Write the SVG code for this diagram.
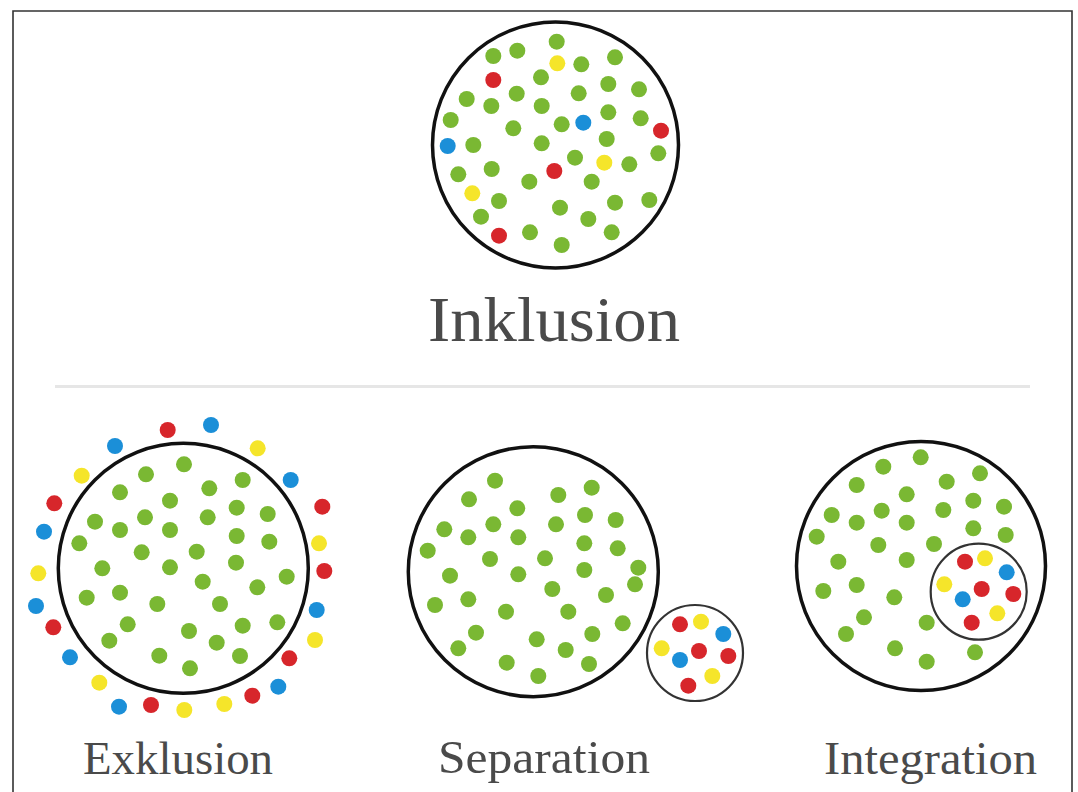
<svg xmlns="http://www.w3.org/2000/svg" width="1078" height="792" viewBox="0 0 1078 792">
<style>
.g{fill:#7ab833}.r{fill:#d7262b}.b{fill:#1b8fd8}.y{fill:#f5e52a}
.big{fill:none;stroke:#111;stroke-width:3.5}
.small{fill:none;stroke:#333;stroke-width:2.2}
.lbl{font-family:"Liberation Serif","DejaVu Serif",serif;fill:#4a4a4a}
</style>
<rect x="0" y="0" width="1078" height="792" fill="#fff"/>
<path d="M13,792 V11 H1072 V792" fill="none" stroke="#333" stroke-width="1.6"/>
<line x1="55" y1="386.5" x2="1030" y2="386.5" stroke="#e6e6e6" stroke-width="3"/>
<g id="inklusion">
<circle class="big" cx="555.5" cy="145" r="123"/>
<g>
<circle class="g" cx="556.7" cy="41.7" r="8"/><circle class="g" cx="493.3" cy="56" r="8"/><circle class="g" cx="517.3" cy="50.7" r="8"/><circle class="g" cx="615" cy="57.3" r="8"/><circle class="g" cx="581.3" cy="64.3" r="8"/><circle class="g" cx="541" cy="77.3" r="8"/><circle class="g" cx="608.3" cy="84" r="8"/><circle class="g" cx="639" cy="89.3" r="8"/><circle class="g" cx="466.7" cy="99" r="8"/><circle class="g" cx="491.3" cy="106" r="8"/><circle class="g" cx="516.7" cy="93.7" r="8"/><circle class="g" cx="578.7" cy="93.3" r="8"/><circle class="g" cx="541.7" cy="106" r="8"/><circle class="g" cx="608.3" cy="112.3" r="8"/><circle class="g" cx="640.7" cy="118.3" r="8"/><circle class="g" cx="450.7" cy="120" r="8"/><circle class="g" cx="513.3" cy="128.3" r="8"/><circle class="g" cx="561.7" cy="124.3" r="8"/><circle class="g" cx="606.7" cy="139" r="8"/><circle class="g" cx="473.3" cy="145" r="8"/><circle class="g" cx="541.7" cy="143.3" r="8"/><circle class="g" cx="658.3" cy="153.3" r="8"/><circle class="g" cx="575" cy="157.7" r="8"/><circle class="g" cx="629.3" cy="164.3" r="8"/><circle class="g" cx="458.3" cy="174.3" r="8"/><circle class="g" cx="491.7" cy="169" r="8"/><circle class="g" cx="529.3" cy="181.7" r="8"/><circle class="g" cx="591.7" cy="181.7" r="8"/><circle class="g" cx="499" cy="201" r="8"/><circle class="g" cx="560" cy="207.7" r="8"/><circle class="g" cx="615" cy="202.7" r="8"/><circle class="g" cx="649.3" cy="200" r="8"/><circle class="g" cx="481" cy="216.7" r="8"/><circle class="g" cx="588.3" cy="219" r="8"/><circle class="g" cx="530" cy="232.3" r="8"/><circle class="g" cx="611.7" cy="232.3" r="8"/><circle class="g" cx="561.7" cy="245" r="8"/>
<circle class="y" cx="557.3" cy="63.3" r="8"/><circle class="y" cx="604.3" cy="162.7" r="8"/><circle class="y" cx="472.3" cy="193.3" r="8"/>
<circle class="r" cx="493.3" cy="80" r="8"/><circle class="r" cx="661" cy="130.7" r="8"/><circle class="r" cx="554.3" cy="171" r="8"/><circle class="r" cx="499" cy="235.7" r="8"/>
<circle class="b" cx="583.3" cy="122.7" r="8"/><circle class="b" cx="447.7" cy="146" r="8"/>
</g>
<text class="lbl" x="428" y="341" font-size="63" textLength="252" lengthAdjust="spacingAndGlyphs">Inklusion</text>
</g>
<g id="exklusion">
<circle class="big" cx="183.3" cy="568.3" r="125"/>
<g>
<circle class="r" cx="167.7" cy="430" r="8"/><circle class="b" cx="211" cy="425" r="8"/><circle class="b" cx="115" cy="446" r="8"/><circle class="y" cx="257.7" cy="448.3" r="8"/><circle class="y" cx="81.7" cy="475.7" r="8"/><circle class="b" cx="290.7" cy="480" r="8"/><circle class="r" cx="54.3" cy="503.3" r="8"/><circle class="r" cx="322.3" cy="506.7" r="8"/><circle class="b" cx="44" cy="531.7" r="8"/><circle class="y" cx="319" cy="543.3" r="8"/><circle class="y" cx="38.3" cy="573.3" r="8"/><circle class="r" cx="324.3" cy="571" r="8"/><circle class="b" cx="36" cy="606" r="8"/><circle class="b" cx="316.7" cy="610" r="8"/><circle class="r" cx="53.3" cy="627.3" r="8"/><circle class="y" cx="315" cy="640" r="8"/><circle class="b" cx="70" cy="657.3" r="8"/><circle class="r" cx="289.3" cy="658.3" r="8"/><circle class="y" cx="99.3" cy="682.7" r="8"/><circle class="b" cx="278.3" cy="686.7" r="8"/><circle class="r" cx="252.3" cy="695.7" r="8"/><circle class="b" cx="119" cy="706.7" r="8"/><circle class="r" cx="151" cy="705" r="8"/><circle class="y" cx="184.3" cy="710" r="8"/><circle class="y" cx="224.3" cy="704" r="8"/>
<circle class="g" cx="184" cy="464.3" r="8"/><circle class="g" cx="146" cy="474.3" r="8"/><circle class="g" cx="242.7" cy="480" r="8"/><circle class="g" cx="209.3" cy="488.3" r="8"/><circle class="g" cx="120" cy="492.3" r="8"/><circle class="g" cx="170" cy="500.7" r="8"/><circle class="g" cx="236.7" cy="507.7" r="8"/><circle class="g" cx="267.7" cy="514" r="8"/><circle class="g" cx="207.7" cy="517.3" r="8"/><circle class="g" cx="145" cy="517.3" r="8"/><circle class="g" cx="95" cy="521.7" r="8"/><circle class="g" cx="120" cy="530" r="8"/><circle class="g" cx="170" cy="530" r="8"/><circle class="g" cx="236.7" cy="536" r="8"/><circle class="g" cx="269.3" cy="541.7" r="8"/><circle class="g" cx="79.3" cy="543.3" r="8"/><circle class="g" cx="141.7" cy="552.3" r="8"/><circle class="g" cx="196.7" cy="551.7" r="8"/><circle class="g" cx="236" cy="562.7" r="8"/><circle class="g" cx="102.3" cy="568.3" r="8"/><circle class="g" cx="170" cy="567.3" r="8"/><circle class="g" cx="286.7" cy="576.7" r="8"/><circle class="g" cx="202.7" cy="581.7" r="8"/><circle class="g" cx="257.3" cy="587.3" r="8"/><circle class="g" cx="86.7" cy="597.7" r="8"/><circle class="g" cx="120" cy="592.7" r="8"/><circle class="g" cx="157.3" cy="604" r="8"/><circle class="g" cx="220" cy="604" r="8"/><circle class="g" cx="127.7" cy="624.3" r="8"/><circle class="g" cx="242.7" cy="625.7" r="8"/><circle class="g" cx="277.3" cy="622.3" r="8"/><circle class="g" cx="109.3" cy="640.7" r="8"/><circle class="g" cx="189" cy="631" r="8"/><circle class="g" cx="216.7" cy="642.7" r="8"/><circle class="g" cx="159.3" cy="655.7" r="8"/><circle class="g" cx="240" cy="656" r="8"/><circle class="g" cx="190" cy="668.3" r="8"/>
</g>
<text class="lbl" x="83" y="774" font-size="47" textLength="190" lengthAdjust="spacingAndGlyphs">Exklusion</text>
</g>
<g id="separation">
<circle class="big" cx="533.3" cy="571.7" r="125"/>
<circle class="small" cx="695" cy="653" r="48"/>
<g>
<circle class="g" cx="495" cy="480.7" r="8"/><circle class="g" cx="591.7" cy="487.7" r="8"/><circle class="g" cx="469" cy="499.3" r="8"/><circle class="g" cx="558.3" cy="495" r="8"/><circle class="g" cx="517.3" cy="508.3" r="8"/><circle class="g" cx="585" cy="515" r="8"/><circle class="g" cx="444.3" cy="529.3" r="8"/><circle class="g" cx="493.3" cy="524.3" r="8"/><circle class="g" cx="556" cy="524.3" r="8"/><circle class="g" cx="615.7" cy="520" r="8"/><circle class="g" cx="468.3" cy="537.3" r="8"/><circle class="g" cx="518.3" cy="537.3" r="8"/><circle class="g" cx="584.3" cy="543.3" r="8"/><circle class="g" cx="617.7" cy="548.3" r="8"/><circle class="g" cx="427.7" cy="550.7" r="8"/><circle class="g" cx="490" cy="559" r="8"/><circle class="g" cx="545" cy="558.3" r="8"/><circle class="g" cx="584.3" cy="570" r="8"/><circle class="g" cx="638.3" cy="567.7" r="8"/><circle class="g" cx="450" cy="575.7" r="8"/><circle class="g" cx="518.3" cy="574.3" r="8"/><circle class="g" cx="635" cy="584.3" r="8"/><circle class="g" cx="552.3" cy="589" r="8"/><circle class="g" cx="606" cy="595" r="8"/><circle class="g" cx="435" cy="605" r="8"/><circle class="g" cx="468.3" cy="599.3" r="8"/><circle class="g" cx="506" cy="611.7" r="8"/><circle class="g" cx="568.3" cy="611.7" r="8"/><circle class="g" cx="622.7" cy="623.3" r="8"/><circle class="g" cx="476" cy="632.7" r="8"/><circle class="g" cx="536.7" cy="639.3" r="8"/><circle class="g" cx="592.3" cy="634" r="8"/><circle class="g" cx="458.3" cy="648.3" r="8"/><circle class="g" cx="565.7" cy="650" r="8"/><circle class="g" cx="506.7" cy="662.7" r="8"/><circle class="g" cx="589" cy="664" r="8"/><circle class="g" cx="538.3" cy="676" r="8"/>
<circle class="r" cx="680" cy="624.3" r="8"/><circle class="y" cx="701" cy="621.7" r="8"/><circle class="b" cx="723.3" cy="634" r="8"/><circle class="y" cx="661.7" cy="648.3" r="8"/><circle class="r" cx="699" cy="651" r="8"/><circle class="r" cx="728.3" cy="656" r="8"/><circle class="b" cx="680" cy="660" r="8"/><circle class="y" cx="712.3" cy="676" r="8"/><circle class="r" cx="688.3" cy="685.7" r="8"/>
</g>
<text class="lbl" x="438" y="773" font-size="47" textLength="212" lengthAdjust="spacingAndGlyphs">Separation</text>
</g>
<g id="integration">
<circle class="big" cx="921" cy="566" r="124.5"/>
<g>
<circle class="g" cx="920.7" cy="457.3" r="8"/><circle class="g" cx="883.3" cy="466.7" r="8"/><circle class="g" cx="980" cy="473.3" r="8"/><circle class="g" cx="856.7" cy="485" r="8"/><circle class="g" cx="946.7" cy="481.7" r="8"/><circle class="g" cx="906.7" cy="494.3" r="8"/><circle class="g" cx="973.3" cy="500.7" r="8"/><circle class="g" cx="1004" cy="506.7" r="8"/><circle class="g" cx="831.7" cy="515" r="8"/><circle class="g" cx="881.7" cy="510.7" r="8"/><circle class="g" cx="943.3" cy="510" r="8"/><circle class="g" cx="856.7" cy="522.7" r="8"/><circle class="g" cx="906.7" cy="522.7" r="8"/><circle class="g" cx="973.3" cy="528.3" r="8"/><circle class="g" cx="1005.7" cy="535" r="8"/><circle class="g" cx="816.7" cy="536.7" r="8"/><circle class="g" cx="878.3" cy="545" r="8"/><circle class="g" cx="934" cy="544" r="8"/><circle class="g" cx="838.3" cy="561.7" r="8"/><circle class="g" cx="906.7" cy="560" r="8"/><circle class="g" cx="823.3" cy="591" r="8"/><circle class="g" cx="856.7" cy="585" r="8"/><circle class="g" cx="894.3" cy="597.3" r="8"/><circle class="g" cx="864" cy="617.3" r="8"/><circle class="g" cx="926.7" cy="622.7" r="8"/><circle class="g" cx="846" cy="634" r="8"/><circle class="g" cx="895" cy="648.3" r="8"/><circle class="g" cx="975" cy="652.3" r="8"/><circle class="g" cx="926.7" cy="661.7" r="8"/>
</g>
<circle class="small" cx="978.7" cy="591.7" r="48" fill="#fff" style="fill:#fff"/>
<g>
<circle class="r" cx="965" cy="561.7" r="8"/><circle class="y" cx="985" cy="558.3" r="8"/><circle class="b" cx="1006.7" cy="572.3" r="8"/><circle class="y" cx="944.3" cy="584.3" r="8"/><circle class="r" cx="981.7" cy="589" r="8"/><circle class="r" cx="1013.3" cy="594" r="8"/><circle class="b" cx="962.7" cy="599.3" r="8"/><circle class="y" cx="997.3" cy="613.3" r="8"/><circle class="r" cx="971.7" cy="622.7" r="8"/>
</g>
<text class="lbl" x="824" y="774" font-size="47" textLength="213" lengthAdjust="spacingAndGlyphs">Integration</text>
</g>
</svg>
